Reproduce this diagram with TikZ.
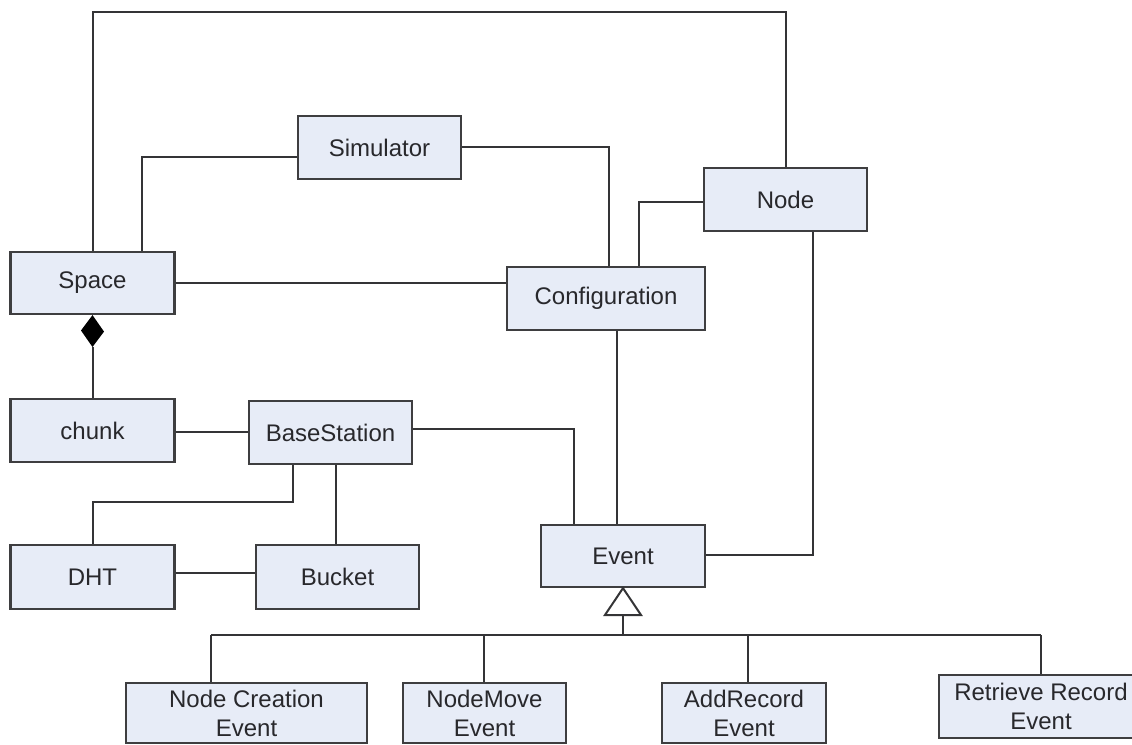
\documentclass[tikz,border=0pt]{standalone}
\usepackage{fontspec}
\setmainfont{Liberation Sans}
\usetikzlibrary{calc}
\definecolor{boxfill}{RGB}{231,236,247}
\definecolor{boxline}{RGB}{62,62,64}
\definecolor{wire}{RGB}{52,52,54}
\definecolor{txt}{RGB}{40,40,44}
\begin{document}
\begin{tikzpicture}[x=1pt,y=-1pt,
  box/.style={draw=boxline, fill=boxfill, line width=2.2pt, rectangle,
    inner sep=0pt, text=txt, align=center,
    font=\fontsize{24}{29}\selectfont},
  link/.style={draw=wire, line width=2pt}]
\clip (0,0) rectangle (1132,744);
\fill[white] (0,0) rectangle (1132,744);

% classes
\node[box, minimum width=164pt, minimum height=62pt] (space) at (92.5,283) {Space};
\node[box, minimum width=163pt, minimum height=63pt] (simulator) at (379.5,147.5) {Simulator};
\node[box, minimum width=198pt, minimum height=63pt] (configuration) at (606,298.5) {Configuration};
\node[box, minimum width=163pt, minimum height=63pt] (node) at (785.5,199.5) {Node};
\node[box, minimum width=164pt, minimum height=63pt] (chunk) at (92.5,430.5) {chunk};
\node[box, minimum width=163pt, minimum height=63pt] (basestation) at (330.5,432.5) {BaseStation};
\node[box, minimum width=164pt, minimum height=64pt] (dht) at (92.5,577) {DHT};
\node[box, minimum width=163pt, minimum height=64pt] (bucket) at (337.5,577) {Bucket};
\node[box, minimum width=164pt, minimum height=62pt] (event) at (623,556) {Event};
\node[box, minimum width=241pt, minimum height=60pt] (ncevent) at (246.5,713) {Node Creation\\Event};
\node[box, minimum width=163pt, minimum height=60pt] (nmevent) at (484.5,713) {NodeMove\\Event};
\node[box, minimum width=164pt, minimum height=60pt] (arevent) at (744,713) {AddRecord\\Event};
\node[box, minimum width=204pt, minimum height=63pt] (rrevent) at (1041,706.5) {Retrieve Record\\Event};

% bend points of the associations
\coordinate (topline) at (0,12);
\coordinate (simbend) at (141.5,157);
\coordinate (simcfg) at (609,147);
\coordinate (spcfg) at (0,283);
\coordinate (nodecfg) at (639,202);
\coordinate (nodeevt) at (813,555);
\coordinate (cfgevt) at (617,0);
\coordinate (bsevt) at (574,429);
\coordinate (dbot) at (92.5,347);
\coordinate (chbs) at (0,432);
\coordinate (bsdht) at (293,502);
\coordinate (bsbk) at (336,0);
\coordinate (dhtbk) at (0,573);
\coordinate (tribase) at (623,615);
\coordinate (bus) at (0,635);
\coordinate (dnc) at (211,0);
\coordinate (dnm) at (484,0);
\coordinate (dar) at (748,0);
\coordinate (drr) at (1041,0);

% associations
\draw[link] (space.north) -- (space.north |- topline) -- (node.north |- topline) -- (node.north);
\draw[link] (space.north -| simbend) |- (simulator.west |- simbend);
\draw[link] (simulator.east |- simcfg) -| (configuration.north -| simcfg);
\draw[link] (space.east |- spcfg) -- (configuration.west |- spcfg);
\draw[link] (node.west |- nodecfg) -| (configuration.north -| nodecfg);
\draw[link] (node.south -| nodeevt) |- (event.east |- nodeevt);
\draw[link] (configuration.south -| cfgevt) -- (event.north -| cfgevt);
\draw[link] (basestation.east |- bsevt) -| (event.north -| bsevt);
\draw[link] (chunk.east |- chbs) -- (basestation.west |- chbs);
\draw[link] (basestation.south -| bsdht) |- (dht.north |- bsdht) -- (dht.north);
\draw[link] (basestation.south -| bsbk) -- (bucket.north -| bsbk);
\draw[link] (dht.east |- dhtbk) -- (bucket.west |- dhtbk);

% composition: Space owns chunk
\draw[link] (chunk.north) -- (dbot);
\fill[black] (space.south) -- ++(11.5,16.5) -- (dbot) -- ++(-11.5,-16.5) -- cycle;

% generalisation of the event types
\draw[link] (tribase) -- (tribase |- bus);
\draw[link] (dnc |- bus) -- (drr |- bus);
\draw[link] (dnc |- bus) -- (ncevent.north -| dnc);
\draw[link] (dnm |- bus) -- (nmevent.north -| dnm);
\draw[link] (dar |- bus) -- (arevent.north -| dar);
\draw[link] (drr |- bus) -- (rrevent.north -| drr);
\draw[link, fill=white, line join=miter] (event.south) -- ($(tribase)+(18,0)$) -- ($(tribase)+(-18,0)$) -- cycle;
\end{tikzpicture}
\end{document}
